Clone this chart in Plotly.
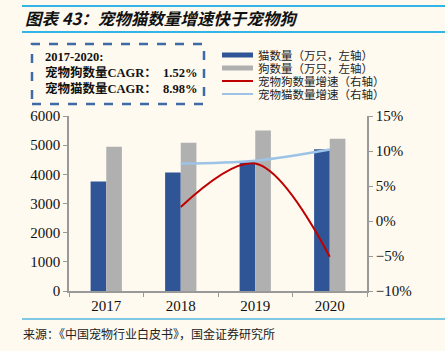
import plotly.graph_objects as go

years = ["2017", "2018", "2019", "2020"]
cats = [3756, 4064, 4412, 4862]
dogs = [4946, 5085, 5503, 5222]
dog_growth_years = ["2018", "2019", "2020"]
dog_growth = [0.020, 0.082, -0.051]
cat_growth = [0.082, 0.086, 0.102]
legend_names = ["猫数量（万只，左轴）", "狗数量（万只，左轴）", "宠物狗数量增速（右轴）", "宠物猫数量增速（右轴）"]
legend_colors = ["#2F5597", "#B0B0B0", "#C00000", "#9DC3E6"]

BG = "#FEFAF0"
W, H = 445, 351
L, R, T, B = 69, 78, 116, 60
PW, PH = W - L - R, H - T - B

def px(x):
    return (x - L) / PW

def py(y):
    return (H - B - y) / PH

serif = "Liberation Serif"
cjk = "Noto Sans CJK SC"

fig = go.Figure()
fig.add_bar(x=years, y=cats, name=legend_names[0], marker_color=legend_colors[0], marker_line_width=0)
fig.add_bar(x=years, y=dogs, name=legend_names[1], marker_color=legend_colors[1], marker_line_width=0)
fig.add_scatter(x=dog_growth_years, y=dog_growth, name=legend_names[2], yaxis="y2", mode="lines",
                line=dict(color=legend_colors[2], width=2, shape="spline", smoothing=1.0))
fig.add_scatter(x=dog_growth_years, y=cat_growth, name=legend_names[3], yaxis="y2", mode="lines",
                line=dict(color=legend_colors[3], width=2.5, shape="spline", smoothing=1.0))

shapes = []
annotations = []
# title lines
for yy in (6, 32, 319):
    shapes.append(dict(type="line", xref="paper", yref="paper", x0=px(22), x1=px(445), y0=py(yy), y1=py(yy),
                       line=dict(color="#33B4E6" if yy != 319 else "#7EC8E3", width=2)))
annotations.append(dict(text="<b><i>图表 43：宠物猫数量增速快于宠物狗</i></b>", xref="paper", yref="paper",
                        x=px(23), y=py(18), xanchor="left", yanchor="middle", showarrow=False,
                        font=dict(family=cjk, size=16.5, color="#111")))
annotations.append(dict(text="来源：《中国宠物行业白皮书》，国金证券研究所", xref="paper", yref="paper",
                        x=px(21), y=py(333), xanchor="left", yanchor="middle", showarrow=False,
                        font=dict(family=cjk, size=12, color="#222")))
# dashed box
shapes.append(dict(type="rect", xref="paper", yref="paper", x0=px(32), x1=px(204), y0=py(104), y1=py(44),
                   line=dict(color="#3E6BA6", width=2.5, dash="dash")))
box_lines = ["<b>2017-2020:</b>", "<b>宠物狗数量CAGR：  1.52%</b>", "<b>宠物猫数量CAGR：  8.98%</b>"]
for i, t in enumerate(box_lines):
    annotations.append(dict(text=t, xref="paper", yref="paper", x=px(43), y=py(57 + 15.5 * i),
                            xanchor="left", yanchor="middle", showarrow=False,
                            font=dict(family=serif + ", " + cjk, size=12.5, color="#111")))
# custom legend
for i, (nm, c) in enumerate(zip(legend_names, legend_colors)):
    yc = 55 + 13 * i
    if i < 2:
        shapes.append(dict(type="rect", xref="paper", yref="paper", x0=px(222), x1=px(253),
                           y0=py(yc + 2.5), y1=py(yc - 2.5), fillcolor=c, line=dict(width=0)))
    else:
        shapes.append(dict(type="line", xref="paper", yref="paper", x0=px(222), x1=px(253),
                           y0=py(yc), y1=py(yc), line=dict(color=c, width=2)))
    annotations.append(dict(text=nm, xref="paper", yref="paper", x=px(256), y=py(yc),
                            xanchor="left", yanchor="middle", showarrow=False,
                            font=dict(family=serif + ", " + cjk, size=11.5, color="#222")))

fig.update_layout(
    width=W, height=H, margin=dict(l=L, r=R, t=T, b=B),
    paper_bgcolor=BG, plot_bgcolor=BG, showlegend=False,
    barmode="group", bargap=0.58, bargroupgap=0,
    shapes=shapes, annotations=annotations,
    xaxis=dict(type="category", showline=True, linecolor="#999", linewidth=1.5, ticks="outside",
               tickson="boundaries", ticklen=4, tickcolor="#999", showgrid=False,
               tickfont=dict(family=serif, size=15, color="#111")),
    yaxis=dict(range=[0, 6000], dtick=1000, showline=True, linecolor="#999", linewidth=1.5,
               ticks="outside", ticklen=4, tickcolor="#999", showgrid=False, zeroline=False,
               tickfont=dict(family=serif, size=15, color="#111")),
    yaxis2=dict(range=[-0.10, 0.15], dtick=0.05, tickformat=".0%", overlaying="y", side="right",
                showline=True, linecolor="#999", linewidth=1.5, ticks="outside", ticklen=4,
                tickcolor="#999", showgrid=False, zeroline=False,
                tickfont=dict(family=serif, size=15, color="#111")),
)
fig.write_html("out.html")
